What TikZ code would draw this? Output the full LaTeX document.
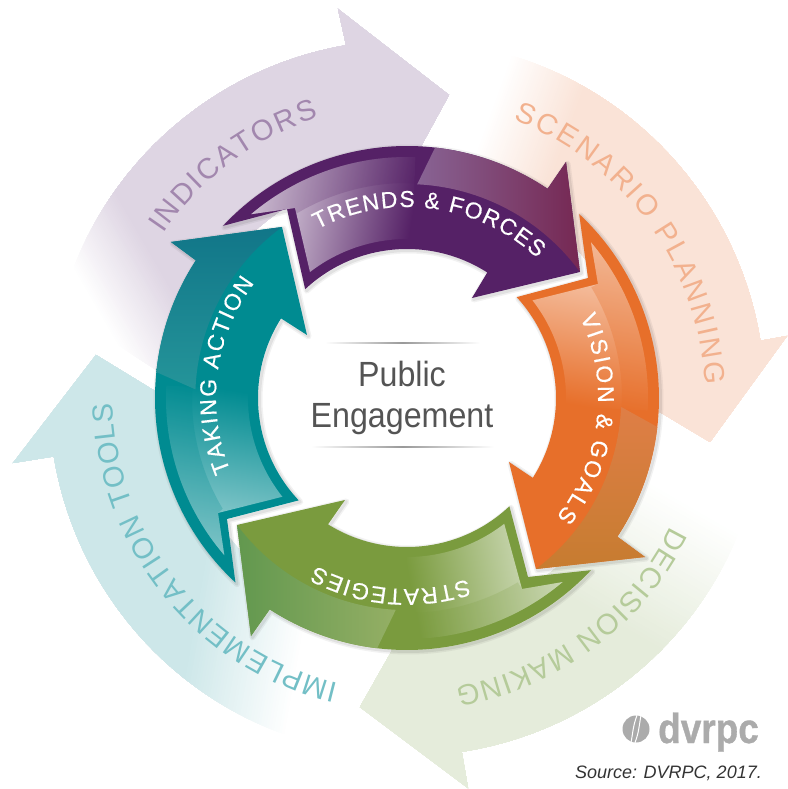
\documentclass[tikz,border=0pt]{standalone}
\usepackage{fontspec}
\setmainfont{Liberation Sans}
\newfontfamily\ringface[FakeBold=0.5]{Liberation Sans}
\newfontfamily\titleface[FakeStretch=0.92]{Liberation Sans}
\newfontfamily\logoface[FakeStretch=0.88,FakeBold=0.8]{Liberation Sans Bold}
\usetikzlibrary{decorations.text}
\definecolor{purplering}{HTML}{552166}
\definecolor{orangering}{HTML}{E76F2A}
\definecolor{greenring}{HTML}{7A9B3E}
\definecolor{tealring}{HTML}{008B91}
\definecolor{lavenderpale}{HTML}{DED5E3}
\definecolor{peachpale}{HTML}{FAE3D7}
\definecolor{greenpale}{HTML}{E5ECDB}
\definecolor{tealpale}{HTML}{CDE7E9}
\definecolor{lavendertext}{HTML}{A287AE}
\definecolor{peachtext}{HTML}{F2B18E}
\definecolor{greentext}{HTML}{B5CB9A}
\definecolor{tealtext}{HTML}{73BFC6}
\newcommand{\ringfont}{\ringface\fontsize{23}{25}\selectfont}
\newcommand{\outerfont}{\fontsize{29}{31}\selectfont}
\newcommand{\fadestrips}[4]{\foreach \k in {0,...,40}{
		\pgfmathsetmacro{\pos}{#2+(#3-#2)*\k/40}
		\pgfmathsetmacro{\pct}{\k*2.5}
		\fill[rotate=#1,fill=#4!\pct!white] (\pos,-600) rectangle (600,600);}}
\tikzset{
	ringshadow/.style={
		preaction={draw=black,draw opacity=.05,line width=6pt,line join=round,transform canvas={shift={(1.5pt,-1.5pt)}}},
		preaction={draw=black,draw opacity=.07,line width=3pt,line join=round,transform canvas={shift={(1.5pt,-1.5pt)}}}},
	arctext/.style={decorate,decoration={text along path,text align={fit to path}}},
	ringtext/.style={arctext,decoration={text color=white}},
	thinrule/.style={left color=white,right color=white,middle color=black!40}
}
\begin{document}
\begin{tikzpicture}[x=1pt,y=1pt]
	\useasboundingbox (-407,-391) rectangle (380,398);
	% pale outer arrows
	\begin{scope}
		\clip (99.8:358) arc[start angle=99.8,end angle=165.5,radius=358] -- (177:226) arc[start angle=177,end angle=90,radius=226] -- (42,303) -- (-69,389) -- cycle;
		\fadestrips{30}{-225}{-150}{lavenderpale}
	\end{scope}
	\begin{scope}
		\clip (9.2:358) arc[start angle=9.2,end angle=75,radius=358] -- (87:226) arc[start angle=87,end angle=0.5,radius=226] -- (303,-44) -- (380,62) -- cycle;
		\fadestrips{-20}{-20}{60}{peachpale}
	\end{scope}
	\begin{scope}
		\clip (-81.2:358) arc[start angle=-81.2,end angle=-15,radius=358] -- (-3:226) arc[start angle=-3,end angle=-90,radius=226] -- (-47,-309) -- (61,-390) -- cycle;
		\fadestrips{240}{-50}{90}{greenpale}
	\end{scope}
	\begin{scope}
		\clip (189.4:358) arc[start angle=189.4,end angle=255,radius=358] -- (267:226) arc[start angle=267,end angle=182.3,radius=226] -- (-311,43) -- (-394,-65) -- cycle;
		\fadestrips{170}{60}{170}{tealpale}
	\end{scope}
	\path[arctext,decoration={text color=lavendertext,text={|\outerfont|INDICATORS}}] (146:294) arc[start angle=146,end angle=107.5,radius=294];
	\path[arctext,decoration={text color=peachtext,text={|\outerfont|SCENARIO PLANNING}}] (69:298) arc[start angle=69,end angle=2.5,radius=298];
	\path[arctext,decoration={text color=greentext,text={|\outerfont|DECISION MAKING}}] (-26:293) arc[start angle=-26,end angle=-80.5,radius=293];
	\path[arctext,decoration={text color=tealtext,text={|\outerfont|IMPLEMENTATION TOOLS}}] (256.5:294) arc[start angle=256.5,end angle=181,radius=294];
	% trends and forces
	\fill[purplering,ringshadow] (136.9:252) -- (-120,189) -- (133.1:149) arc[start angle=133.1,end angle=57.4,radius=149] -- (65,100) -- (173,126) -- (159,236) -- (56.1:252) arc[start angle=56.1,end angle=136.9,radius=252] -- cycle;
	\shade[top color=purplering!15!white,bottom color=purplering,shading angle=80] (130.3:241) -- (-112,190) -- (127.6:159) arc[start angle=127.6,end angle=88,radius=159] -- (88:241) arc[start angle=88,end angle=130.3,radius=241] -- cycle;
	\fill[purplering,opacity=.2] (130.3:241) arc[start angle=130.3,end angle=88,radius=241] -- (88:215) arc[start angle=88,end angle=121,radius=215] -- (-112,190) -- cycle;
	\shade[top color=purplering!70!white,bottom color=purplering!90!red!90!orange,shading angle=90] (83.6:252) arc[start angle=83.6,end angle=56.1,radius=252] -- (159,236) -- (173,126) arc[start angle=36.1,end angle=87.3,radius=214] -- cycle;
	% vision and goals
	\fill[orangering,ringshadow] (46.9:252) -- (181,120) -- (42.6:149) arc[start angle=42.6,end angle=-32.4,radius=149] -- (102,-64) -- (129,-171) -- (238,-159) -- (-33.4:252) arc[start angle=-33.4,end angle=46.9,radius=252] -- cycle;
	\shade[top color=orangering!30!white,bottom color=orangering,shading angle=-10] (40.2:241) -- (191,114) -- (37.9:159) arc[start angle=37.9,end angle=-3,radius=159] -- (-3:241) arc[start angle=-3,end angle=40.2,radius=241] -- cycle;
	\fill[orangering,opacity=.3] (40.2:241) arc[start angle=40.2,end angle=-3,radius=241] -- (-3:215) arc[start angle=-3,end angle=31,radius=215] -- (191,114) -- cycle;
	\shade[top color=orangering!85!white!95!black,bottom color=orangering!70!greenring,shading angle=0] (-6.6:252) arc[start angle=-6.6,end angle=-33.4,radius=252] -- (238,-159) -- (129,-171) arc[start angle=-53,end angle=-2.4,radius=214.2] -- cycle;
	% strategies
	\fill[greenring,ringshadow] (-43.1:252) -- (121,-179) -- (-46.6:149) arc[start angle=-46.6,end angle=-122,radius=149] -- (-62,-102) -- (-170,-127) -- (-156,-238) -- (-123:252) arc[start angle=-123,end angle=-43.1,radius=252] -- cycle;
	\shade[top color=greenring!25!white,bottom color=greenring,shading angle=-80] (-49.8:241) -- (115,-191) -- (-52.3:159) arc[start angle=-52.3,end angle=-90,radius=159] -- (-90:241) arc[start angle=-90,end angle=-49.8,radius=241] -- cycle;
	\fill[greenring,opacity=.2] (-49.8:241) arc[start angle=-49.8,end angle=-90,radius=241] -- (-90:215) arc[start angle=-90,end angle=-59,radius=215] -- (115,-191) -- cycle;
	\shade[top color=greenring!80!white,bottom color=greenring!80!tealring,shading angle=-90] (263.2:252) arc[start angle=263.2,end angle=237,radius=252] -- (-156,-238) -- (-170,-127) arc[start angle=216.8,end angle=267,radius=212.2] -- cycle;
	% taking action
	\fill[tealring,ringshadow] (227.1:252) -- (-180,-121) -- (223.4:149) arc[start angle=223.4,end angle=147.7,radius=149] -- (-100,63) -- (-125,171) -- (-236,156) -- (146.9:252) arc[start angle=146.9,end angle=227.1,radius=252] -- cycle;
	\shade[top color=tealring!35!white,bottom color=tealring,shading angle=170] (220.7:241) -- (-189,-115) -- (218.4:159) arc[start angle=218.4,end angle=177,radius=159] -- (177:241) arc[start angle=177,end angle=220.7,radius=241] -- cycle;
	\fill[tealring,opacity=.25] (220.7:241) arc[start angle=220.7,end angle=177,radius=241] -- (177:215) arc[start angle=177,end angle=211,radius=215] -- (-189,-115) -- cycle;
	\shade[top color=tealring!85!white!95!black,bottom color=tealring!80!purplering,shading angle=180] (174.1:252) arc[start angle=174.1,end angle=146.9,radius=252] -- (-236,156) -- (-125,171) arc[start angle=126.2,end angle=177.7,radius=211.8] -- cycle;
	% ring labels
	\path[ringtext,decoration={text={|\ringfont|TRENDS {\&} FORCES}}] (118:191) arc[start angle=118,end angle=47,radius=191];
	\path[ringtext,decoration={text={|\ringfont|VISION {\&} GOALS}}] (25:191) arc[start angle=25,end angle=-38.5,radius=191];
	\path[ringtext,decoration={text={|\ringfont|STRATEGIES}}] (-71.5:191) arc[start angle=-71.5,end angle=-118.5,radius=191];
	\path[ringtext,decoration={text={|\ringfont|TAKING ACTION}}] (202.5:191) arc[start angle=202.5,end angle=143,radius=191];
	% centre
	\shade[thinrule] (-82,54.3) rectangle (73,55.7);
	\shade[thinrule] (-96,-49.7) rectangle (87,-48.3);
	\node[text=black!67,align=center,font=\titleface\fontsize{35}{41}\selectfont] (title) at (-5,0) {Public\\Engagement};
	% logo and source
	\node[circle,fill=black!33,minimum size=27pt,inner sep=0pt] (logomark) at (229,-331) {};
	\draw[white,line width=1pt] ([xshift=-5pt]logomark.south) .. controls (226,-334) and (226,-328) .. ([xshift=1pt]logomark.north);
	\draw[white,line width=1pt] ([xshift=-1pt]logomark.south) .. controls (232,-334) and (232,-328) .. ([xshift=5pt]logomark.north);
	\node[text=black!33,font=\logoface\fontsize{42}{45}\selectfont,anchor=base west,inner sep=0pt] (logotext) at (251,-345) {dvrpc};
	\node[text=black!80,font=\fontsize{18}{20}\selectfont\itshape,anchor=base east,inner sep=0pt] (source) at (355,-380) {Source: DVRPC, 2017.};
\end{tikzpicture}
\end{document}
